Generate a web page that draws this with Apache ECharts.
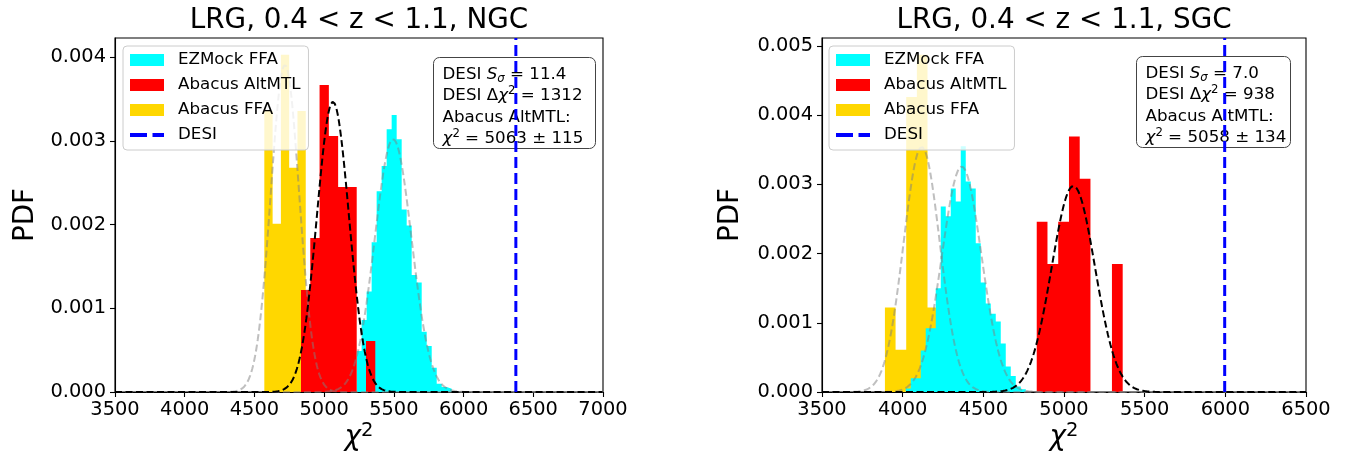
<!DOCTYPE html>
<html>
<head>
<meta charset="utf-8">
<script src="https://cdn.jsdelivr.net/npm/echarts@6/dist/echarts.min.js"></script>
<style>
  html, body { margin: 0; padding: 0; background: #ffffff; }
  #chart { width: 1346px; height: 459px; }
</style>
</head>
<body>
<div id="chart"></div>
<script>
// ---- Tick values ----
const ngcXTicks = [3500, 4000, 4500, 5000, 5500, 6000, 6500, 7000];
const sgcXTicks = [3500, 4000, 4500, 5000, 5500, 6000, 6500];
const ngcYTicks = [0, 0.001, 0.002, 0.003, 0.004];
const sgcYTicks = [0, 0.001, 0.002, 0.003, 0.004, 0.005];

// ---- NGC histograms: first bin edge, bin width, PDF per bin ----
const ngcEzStart = 5233, ngcEzWidth = 35.9;
const ngcEzPdf = [0.00049, 0.00086, 0.0012, 0.00179, 0.0024, 0.0027, 0.00314, 0.00331, 0.00302, 0.00218,
                  0.00199, 0.0014, 0.00131, 0.00072, 0.00055, 0.00029, 0.0001, 0.00006, 0.00004];
const ngcAltStart = 4834, ngcAltWidth = 66.6;
const ngcAltPdf = [0.00122, 0.00184, 0.00367, 0.00306, 0.00245, 0.00245, 0, 0.00061];
const ngcFfaStart = 4571, ngcFfaWidth = 59.4;
const ngcFfaPdf = [0.00336, 0.00201, 0.00403, 0.00268, 0.00336];

// ---- SGC histograms ----
const sgcEzStart = 4019, sgcEzWidth = 31;
const sgcEzPdf = [0.00005, 0.0002, 0.0002, 0.0006, 0.00092, 0.00092, 0.0015, 0.00268, 0.00254, 0.00294,
                  0.00275, 0.00355, 0.00304, 0.00294, 0.00215, 0.00158, 0.00128, 0.00113, 0.00102, 0.0007,
                  0.00037, 0.00023, 0.00008, 0.00004];
const sgcAltStart = 4831, sgcAltWidth = 66.6;
const sgcAltPdf = [0.00246, 0.00185, 0.00246, 0.00369, 0.00308, 0, 0, 0.00185];
const sgcFfaStart = 3890, sgcFfaWidth = 66;
const sgcFfaPdf = [0.00122, 0.00061, 0.00426, 0.00487, 0.00122];

// ---- Gaussian fits: [EZMock FFA, Abacus AltMTL, Abacus FFA] ----
const ngcFitMean = [5495, 5063, 4719];
const ngcFitSigma = [132, 115, 102];
const sgcFitMean = [4366, 5058, 4118];
const sgcFitSigma = [122.5, 134, 112.7];

// ---- DESI offsets from the AltMTL mean ----
const desiDelta = [1312, 938];

const FONT = 'DejaVu Sans';
const CYAN = '#00ffff', RED = '#ff0000', GOLD = '#ffd700', BLUE = '#0000ff';
// legend handle: two dashes in a 34x12 box
const DASH_ICON = 'path://M0,0M34,12M0,4H17V8H0ZM22.5,4H34V8H22.5Z';

// Outline of a histogram as step points (edges with the bin heights), closed at zero.
function histPoints(start, width, pdf) {
  const pts = [[start, 0]];
  pdf.forEach((h, i) => pts.push([start + i * width, h]));
  pts.push([start + pdf.length * width, pdf[pdf.length - 1]]);
  pts.push([start + pdf.length * width, 0]);
  return pts;
}

function histSeries(name, color, start, width, pdf, idx) {
  return {
    type: 'line', name: name, xAxisIndex: idx, yAxisIndex: idx, silent: true,
    step: 'end', symbol: 'none', showSymbol: false,
    itemStyle: { color: color },
    lineStyle: { width: 0, color: color },
    areaStyle: { color: color, opacity: 1 },
    data: histPoints(start, width, pdf), z: 2
  };
}

function gaussPoints(mean, sigma, xmin, xmax) {
  const pts = [];
  const norm = 1 / (sigma * Math.sqrt(2 * Math.PI));
  for (let x = xmin; x <= xmax; x += 4) {
    const z = (x - mean) / sigma;
    pts.push([x, norm * Math.exp(-0.5 * z * z)]);
  }
  return pts;
}

function fitSeries(mean, sigma, xmin, xmax, color, idx) {
  return {
    type: 'line', xAxisIndex: idx, yAxisIndex: idx, silent: true,
    symbol: 'none', showSymbol: false,
    lineStyle: { color: color, width: 2, type: [7, 3.5] },
    data: gaussPoints(mean, sigma, xmin, xmax), z: 3
  };
}

function desiSeries(x, ymax, idx) {
  return {
    type: 'line', name: 'DESI', xAxisIndex: idx, yAxisIndex: idx, silent: true,
    symbol: 'none', showSymbol: false,
    itemStyle: { color: BLUE },
    lineStyle: { color: BLUE, width: 3, type: [11, 5] },
    data: [[x, 0], [x, ymax]], z: 4
  };
}

const ngcYMax = Math.max(...ngcFfaPdf, ...ngcAltPdf, ...ngcEzPdf) * 1.05;
const sgcYMax = Math.max(...sgcFfaPdf, ...sgcAltPdf, ...sgcEzPdf) * 1.05;

function xAxisOf(idx, min, max, ticks) {
  return {
    type: 'value', gridIndex: idx, min: min, max: max, interval: 500,
    axisLine: { show: true, onZero: false, lineStyle: { color: '#000', width: 1.1 } },
    axisTick: { show: true, length: 5, customValues: ticks, lineStyle: { color: '#000', width: 1.1 } },
    axisLabel: { color: '#000', fontSize: 19.4, fontFamily: FONT, margin: 8, customValues: ticks,
                 formatter: v => String(v), showMinLabel: true, showMaxLabel: true, hideOverlap: false },
    splitLine: { show: false }
  };
}

function yAxisOf(idx, max, ticks) {
  return {
    type: 'value', gridIndex: idx, min: 0, max: max, interval: 0.001,
    axisLine: { show: true, onZero: false, lineStyle: { color: '#000', width: 1.1 } },
    axisTick: { show: true, length: 5, customValues: ticks, lineStyle: { color: '#000', width: 1.1 } },
    axisLabel: { color: '#000', fontSize: 19.4, fontFamily: FONT, margin: 9, customValues: ticks,
                 formatter: v => v.toFixed(3), hideOverlap: false },
    splitLine: { show: false }
  };
}

function legendOf(left) {
  return {
    orient: 'vertical', left: left, top: 46, padding: [4, 8, 5, 7],
    itemGap: 5, itemWidth: 34, itemHeight: 12, selectedMode: false,
    backgroundColor: 'rgba(255,255,255,0.8)', borderColor: '#cccccc', borderWidth: 1, borderRadius: 4,
    textStyle: { fontSize: 16.7, fontFamily: FONT, color: '#000', lineHeight: 20, padding: [0, 0, 0, 9] },
    data: [
      { name: 'EZMock FFA', icon: 'rect' },
      { name: 'Abacus AltMTL', icon: 'rect' },
      { name: 'Abacus FFA', icon: 'rect' },
      { name: 'DESI', icon: DASH_ICON, itemStyle: { color: BLUE } }
    ],
    z: 20
  };
}

const richStyles = {
  n: { fontSize: 16.7, fontFamily: FONT, color: '#000', lineHeight: 21.5 },
  i: { fontSize: 16.7, fontFamily: FONT, fontStyle: 'italic', color: '#000', lineHeight: 21.5 },
  sub: { fontSize: 11.7, fontFamily: FONT, fontStyle: 'italic', color: '#000', lineHeight: 13, verticalAlign: 'bottom' },
  sup: { fontSize: 11.7, fontFamily: FONT, color: '#000', lineHeight: 12, verticalAlign: 'top' },
  big: { fontSize: 27.8, fontFamily: FONT, fontStyle: 'italic', color: '#000', lineHeight: 34 },
  bigsup: { fontSize: 19.5, fontFamily: FONT, color: '#000', lineHeight: 22, verticalAlign: 'top' }
};

function statText(delta, mean, sigma) {
  return '{n|DESI }{i|S}{sub|σ}{n| = ' + (delta / sigma).toFixed(1) + '}\n' +
         '{n|DESI Δ}{i|χ}{sup|2}{n| = ' + delta + '}\n' +
         '{n|Abacus AltMTL:}\n' +
         '{i|χ}{sup|2}{n| = ' + mean + ' ± ' + sigma + '}';
}

function statBox(x, y, w, h, delta, mean, sigma) {
  return {
    type: 'group', left: x, top: y, z: 50,
    children: [
      { type: 'rect', shape: { x: 0, y: 0, width: w, height: h, r: 6 },
        style: { fill: 'rgba(255,255,255,0.7)', stroke: '#444', lineWidth: 1 } },
      { type: 'text', x: 9, y: 6,
        style: { text: statText(delta, mean, sigma), rich: richStyles, textVerticalAlign: 'top' } }
    ]
  };
}

function plainText(x, y, text, size, rotation) {
  return {
    type: 'text', x: x, y: y, rotation: rotation || 0, z: 50,
    style: { text: text, fontSize: size, fontFamily: FONT, fill: '#000', textAlign: 'center', textVerticalAlign: 'middle', rich: richStyles }
  };
}

const chart = echarts.init(document.getElementById('chart'), null, { renderer: 'canvas' });

chart.setOption({
  animation: false,
  backgroundColor: '#ffffff',
  grid: [
    { left: 115, top: 38, width: 488, height: 354, show: true, borderColor: '#000', borderWidth: 1.1,
      backgroundColor: 'transparent', containLabel: false, outerBoundsMode: 'none' },
    { left: 822, top: 38, width: 484, height: 354, show: true, borderColor: '#000', borderWidth: 1.1,
      backgroundColor: 'transparent', containLabel: false, outerBoundsMode: 'none' }
  ],
  xAxis: [xAxisOf(0, 3500, 7000, ngcXTicks), xAxisOf(1, 3500, 6500, sgcXTicks)],
  yAxis: [yAxisOf(0, ngcYMax, ngcYTicks), yAxisOf(1, sgcYMax, sgcYTicks)],
  legend: [legendOf(123), legendOf(829)],
  series: [
    histSeries('Abacus FFA', GOLD, ngcFfaStart, ngcFfaWidth, ngcFfaPdf, 0),
    histSeries('EZMock FFA', CYAN, ngcEzStart, ngcEzWidth, ngcEzPdf, 0),
    histSeries('Abacus AltMTL', RED, ngcAltStart, ngcAltWidth, ngcAltPdf, 0),
    fitSeries(ngcFitMean[0], ngcFitSigma[0], 3500, 7000, 'rgba(128,128,128,0.5)', 0),
    fitSeries(ngcFitMean[2], ngcFitSigma[2], 3500, 7000, 'rgba(128,128,128,0.5)', 0),
    fitSeries(ngcFitMean[1], ngcFitSigma[1], 3500, 7000, '#000000', 0),
    desiSeries(ngcFitMean[1] + desiDelta[0], ngcYMax, 0),

    histSeries('Abacus FFA', GOLD, sgcFfaStart, sgcFfaWidth, sgcFfaPdf, 1),
    histSeries('EZMock FFA', CYAN, sgcEzStart, sgcEzWidth, sgcEzPdf, 1),
    histSeries('Abacus AltMTL', RED, sgcAltStart, sgcAltWidth, sgcAltPdf, 1),
    fitSeries(sgcFitMean[0], sgcFitSigma[0], 3500, 6500, 'rgba(128,128,128,0.5)', 1),
    fitSeries(sgcFitMean[2], sgcFitSigma[2], 3500, 6500, 'rgba(128,128,128,0.5)', 1),
    fitSeries(sgcFitMean[1], sgcFitSigma[1], 3500, 6500, '#000000', 1),
    desiSeries(sgcFitMean[1] + desiDelta[1], sgcYMax, 1)
  ],
  graphic: [
    plainText(359, 21, 'LRG, 0.4 < z < 1.1, NGC', 27.8),
    plainText(1064, 21, 'LRG, 0.4 < z < 1.1, SGC', 27.8),
    plainText(26, 215, 'PDF', 27.8, Math.PI / 2),
    plainText(731, 215, 'PDF', 27.8, Math.PI / 2),
    plainText(359, 438, '{big|χ}{bigsup|2}', 27.8),
    plainText(1064, 438, '{big|χ}{bigsup|2}', 27.8),
    statBox(433, 57, 162, 91, desiDelta[0], ngcFitMean[1], ngcFitSigma[1]),
    statBox(1136, 56, 154, 91, desiDelta[1], sgcFitMean[1], sgcFitSigma[1])
  ]
});
</script>
</body>
</html>
